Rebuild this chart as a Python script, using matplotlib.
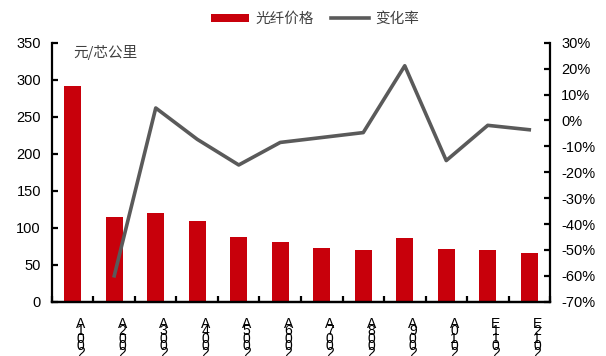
import matplotlib
matplotlib.use('Agg')
import matplotlib.pyplot as plt
import matplotlib.transforms as mtransforms
from matplotlib.ticker import FuncFormatter, MultipleLocator

plt.rcParams['font.family'] = ['Liberation Sans', 'Noto Sans CJK SC', 'DejaVu Sans']

# 光纤价格（元/芯公里）与同比变化率
years = ['2001A', '2002A', '2003A', '2004A', '2005A', '2006A',
         '2007A', '2008A', '2009A', '2010A', '2011E', '2012E']
price = [291, 114, 119.5, 108.6, 87.4, 80.2, 73, 70, 85.6, 71.6, 70, 66.2]
change = [None, -60.0, 4.8, -7.3, -17.2, -8.5, -6.6, -4.7, 21.1, -15.5, -1.9, -3.6]

bar_color = '#c8000b'
line_color = '#5a5a5a'
text_color = '#404040'

fig = plt.figure(figsize=(6.06, 3.56), dpi=100)
ax = fig.add_axes([0.0858, 0.1525, 0.8218, 0.7275])
ax2 = ax.twinx()

x = list(range(len(years)))
bars = ax.bar(x, price, width=0.4, color=bar_color, label='光纤价格', zorder=2)

cx = [i for i, v in zip(x, change) if v is not None]
cy = [v for v in change if v is not None]
line, = ax2.plot(cx, cy, color=line_color, lw=2.6, label='变化率', zorder=3)

ax.set_xlim(-0.5, len(years) - 0.5)
ax.set_ylim(0, 350)
ax.yaxis.set_major_locator(MultipleLocator(50))
ax2.set_ylim(-70, 30)
ax2.yaxis.set_major_locator(MultipleLocator(10))
ax2.yaxis.set_major_formatter(FuncFormatter(lambda v, p: f'{v:.0f}%'))

for a in (ax, ax2):
    a.spines['top'].set_visible(False)
    for s in a.spines.values():
        s.set_linewidth(1.6)
        s.set_color('black')
    a.tick_params(axis='y', direction='in', length=4, width=1.6,
                  labelsize=10.5, colors='black', pad=8)
ax2.spines['left'].set_visible(False)
ax.spines['right'].set_visible(False)

# x 轴刻度在分类边界处
ax.set_xticks([i - 0.5 for i in range(len(years) + 1)])
ax.set_xticklabels([])
ax.tick_params(axis='x', direction='in', length=4, width=1.6)

# 竖排年份标签（字符倒序，自上而下）
offset = mtransforms.ScaledTranslation(8 / 100, 0, fig.dpi_scale_trans)
for i, yr in enumerate(years):
    ax.text(i, -0.058, '\n'.join(reversed(yr)), transform=ax.get_xaxis_transform() + offset,
            ha='center', va='top', fontsize=10, linespacing=0.4, color='black')

ax.text(0.042, 0.99, '元/芯公里', transform=ax.transAxes, fontsize=10.5,
        color=text_color, ha='left', va='top', family=['Noto Sans CJK SC', 'DejaVu Sans'])

fig.legend(handles=[bars, line], labels=['光纤价格', '变化率'], loc='center',
           bbox_to_anchor=(0.52, 0.947), ncol=2, frameon=False,
           handlelength=2.6, handleheight=0.5, columnspacing=1.2, handletextpad=0.4,
           labelcolor=text_color, prop={'family': ['Noto Sans CJK SC', 'DejaVu Sans'], 'size': 10.5})

fig.savefig('out.png', dpi=100)
